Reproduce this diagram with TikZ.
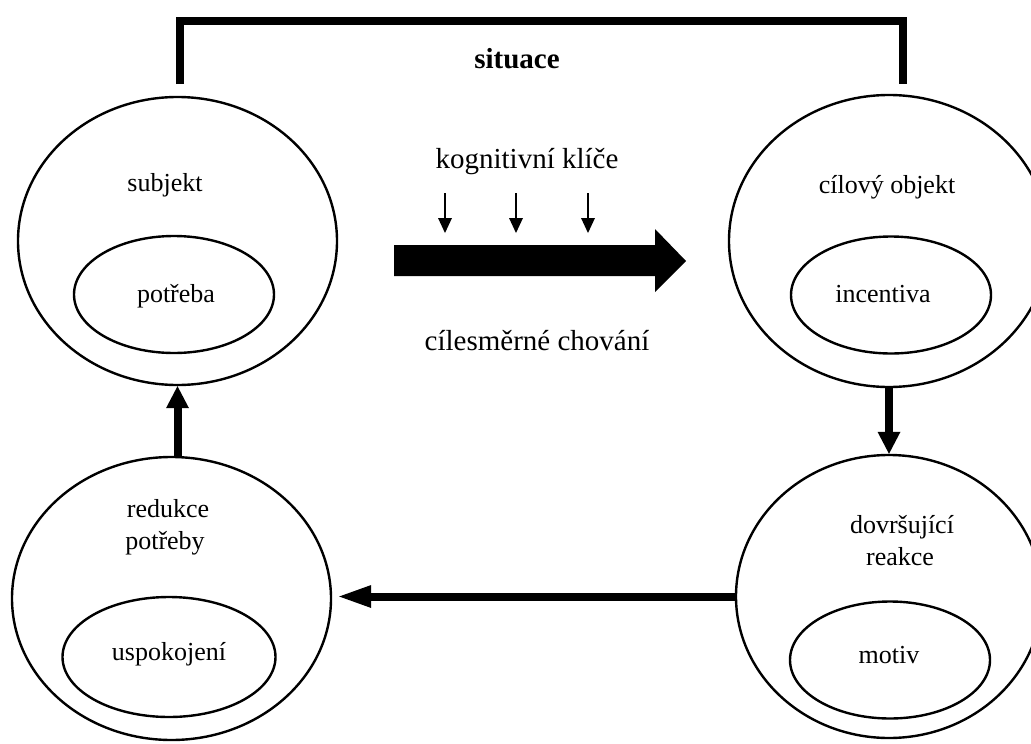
\documentclass[tikz,border=0pt]{standalone}
\usepackage{fontspec}
\setmainfont{Liberation Serif}
\usetikzlibrary{arrows.meta,shapes.geometric,calc}

\tikzset{
  outer/.style={draw,ellipse,line width=2.4pt,inner sep=0pt},
  inner/.style={draw,ellipse,line width=2.4pt,inner sep=0pt,
                minimum width=200pt,minimum height=117pt},
  lbl/.style={anchor=base,inner sep=0pt,font=\fontsize{26}{30}\selectfont},
  midlbl/.style={anchor=base,inner sep=0pt,font=\fontsize{29}{34}\selectfont},
  flow/.style={line width=8pt,-{Triangle[width=23pt,length=22pt,line width=0pt]}},
  cue/.style={line width=2pt,-{Triangle[width=14pt,length=15pt,line width=0pt]}},
  frame/.style={line width=8pt,line join=miter}
}

\begin{document}
\begin{tikzpicture}[x=1pt,y=-1pt]
\useasboundingbox (0,0) rectangle (1031,744);

% the four stages of the cycle
\node[outer,minimum width=319pt,minimum height=288pt] (subj) at (177.5,241) {};
\node[outer,minimum width=320pt,minimum height=292pt] (cil)  at (889,241) {};
\node[outer,minimum width=306pt,minimum height=283pt] (dovr) at (889,596.5) {};
\node[outer,minimum width=319pt,minimum height=283pt] (red)  at (171.5,598.5) {};

% inner ellipses
\node[inner] (potr) at (174,294.5) {};
\node[inner] (inc)  at (891,295) {};
\node[inner] (mot)  at (890,660) {};
\node[inner,minimum width=213pt,minimum height=120pt] (usp) at (169,657) {};

% labels
\node[lbl] (subjT) at (165,191) {subjekt};
\node[lbl] (potrT) at (176,302) {potřeba};
\node[lbl] (cilT)  at (887,193) {cílový objekt};
\node[lbl] (incT)  at (883,302) {incentiva};
\node[lbl] (dovrT1) at (902,533) {dovršující};
\node[lbl] (dovrT2) at (900,565) {reakce};
\node[lbl] (motT)  at (889,663) {motiv};
\node[lbl] (redT1) at (168,517) {redukce};
\node[lbl] (redT2) at (165,549) {potřeby};
\node[lbl] (uspT)  at (169,660) {uspokojení};

\node[anchor=base,inner sep=0pt,font=\fontsize{29}{34}\selectfont\bfseries] (sit) at (517,68) {situace};
\node[midlbl] (kog) at (527,168) {kognitivní klíče};
\node[midlbl] (chov) at (537,350) {cílesměrné chování};

% situation frame over the top
\coordinate (fL) at (180,84);
\coordinate (fR) at (903,84);
\draw[frame] (fL) |- (517,21) -| (fR);

% goal-directed behaviour arrow
\fill (394,245) -- (655,245) -- (655,229) -- (686,261) -- (655,292)
      -- (655,276) -- (394,276) -- cycle;

% cognitive cues
\foreach \x/\n in {445/a,516/b,588/c}{
  \coordinate (c\n s) at (\x,193);
  \coordinate (c\n e) at (\x,233);
  \draw[cue] (c\n s) -- (c\n e);
}

% cycle connectors
\draw[flow] (cil.south) -- (dovr.north);
\draw[flow,-{Triangle[width=23pt,length=32pt,line width=0pt]},shorten >=7pt]
  (dovr.west) -- (dovr.west -| red.east);
\draw[flow] (red.north -| subj.south) -- (subj.south);
\end{tikzpicture}
\end{document}
